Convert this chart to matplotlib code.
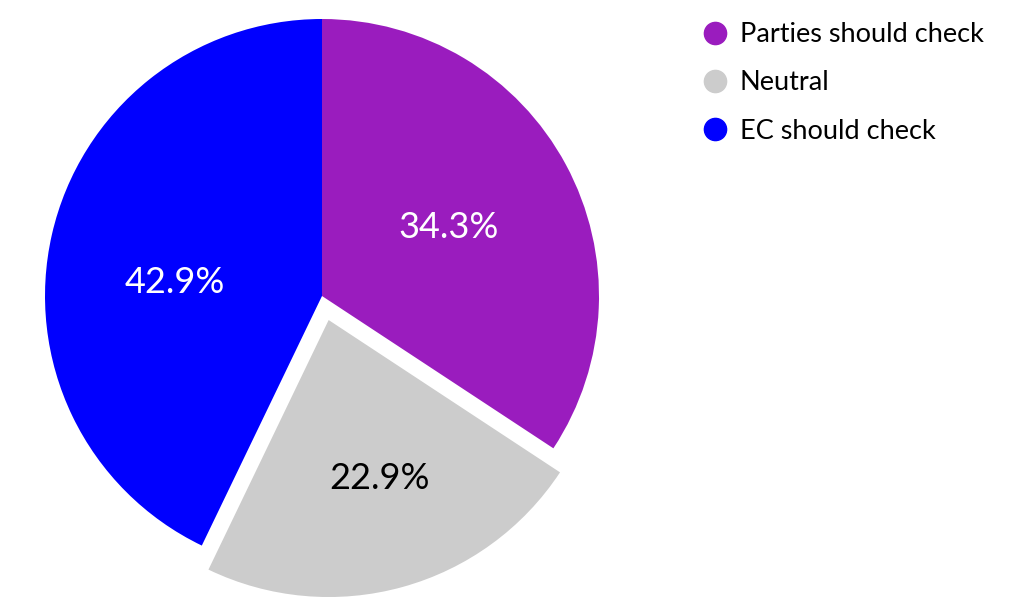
import matplotlib
matplotlib.use("Agg")
import numpy as np
import matplotlib.pyplot as plt
from matplotlib.lines import Line2D

labels = ["Parties should check", "Neutral", "EC should check"]
values = [34.3, 22.9, 42.9]
colors = ["#9a1cbe", "#cccccc", "#0000ff"]
text_colors = ["white", "black", "white"]
explode = [0, 0.09, 0]
label_radius = [0.52, 0.60, 0.532]
label_angle_shift = [0.0, 2.5, 7.5]

plt.rcParams['font.family'] = ['Lato', 'DejaVu Sans']

W, H = 1026, 616
fig = plt.figure(figsize=(W / 100, H / 100), dpi=100)
ax = fig.add_axes([0, 0, 1, 1])
cx, cy, R = 322, 320, 277
wedges, texts, autotexts = ax.pie(
    values, colors=colors, explode=explode, startangle=90, counterclock=False,
    autopct=lambda p: f"{p:.1f}%", pctdistance=0.54, radius=1,
    textprops=dict(fontsize=26), wedgeprops=dict(linewidth=0))
for w, t, c, r, s in zip(wedges, autotexts, text_colors, label_radius, label_angle_shift):
    t.set_color(c)
    ang = np.deg2rad((w.theta1 + w.theta2) / 2 + s)
    x0, y0 = w.center
    t.set_position((x0 + r * np.cos(ang), y0 + r * np.sin(ang)))
    t.set_va('center')
    t.set_ha('center')
ax.set_xlim(-cx / R, (W - cx) / R)
ax.set_ylim(-cy / R, (H - cy) / R)
ax.set_aspect('auto')
ax.axis('off')

handles = [Line2D([], [], marker='o', linestyle='', markersize=16,
                  markerfacecolor=c, markeredgecolor=c) for c in colors]
fig.legend(handles, labels, loc='upper left', bbox_to_anchor=(701.5 / W, 1 - 22 / H),
           frameon=False, fontsize=19.5, labelspacing=0.86, handletextpad=0.42,
           handlelength=1.0, borderpad=0, borderaxespad=0)

fig.savefig("out.png", dpi=100)
